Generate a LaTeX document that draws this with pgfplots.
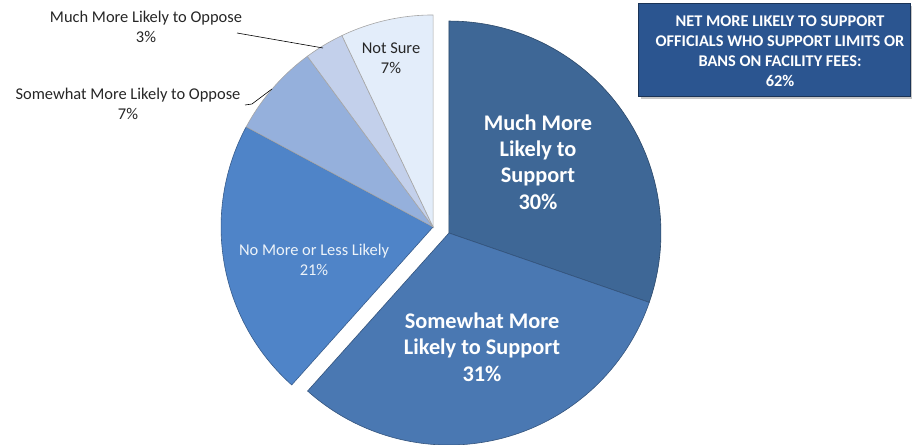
\documentclass[border=0pt]{standalone}
\usepackage{pgfplots}
\pgfplotsset{compat=1.18}
\usepackage{fontspec}
\setmainfont{Carlito}
\definecolor{sA}{HTML}{3E6796}
\definecolor{sB}{HTML}{4A78B2}
\definecolor{sC}{HTML}{4F84C8}
\definecolor{sD}{HTML}{95B0DC}
\definecolor{sE}{HTML}{C3D0EB}
\definecolor{sF}{HTML}{E3EDFA}
\definecolor{boxblue}{HTML}{2B5590}
\definecolor{txt}{HTML}{262626}
% survey shares (percent)
\def\vA{30}\def\vB{31}\def\vC{21}\def\vD{7}\def\vE{3}\def\vF{7}
\pgfmathsetmacro{\tot}{\vA+\vB+\vC+\vD+\vE+\vF}
\pgfmathsetmacro{\k}{360/\tot}
\pgfmathsetmacro{\aO}{90}
\pgfmathsetmacro{\aA}{\aO-\vA*\k}
\pgfmathsetmacro{\aB}{\aA-\vB*\k}
\pgfmathsetmacro{\aC}{\aB-\vC*\k}
\pgfmathsetmacro{\aD}{\aC-\vD*\k}
\pgfmathsetmacro{\aE}{\aD-\vE*\k}
\pgfmathsetmacro{\aF}{\aE-\vF*\k}
\def\R{212}
\def\cx{441}\def\cy{215}\def\off{8.5}
\pgfmathsetmacro{\bisA}{(\aO+\aB)/2}
\pgfmathsetmacro{\bisB}{(\aB+\aF)/2}
\pgfmathsetmacro{\xA}{\cx+\off*cos(\bisA)}
\pgfmathsetmacro{\yA}{\cy+\off*sin(\bisA)}
\pgfmathsetmacro{\xB}{\cx+\off*cos(\bisB)}
\pgfmathsetmacro{\yB}{\cy+\off*sin(\bisB)}
\begin{document}
\begin{tikzpicture}
\begin{axis}[hide axis, scale only axis, width=914bp, height=445bp,
  xmin=0, xmax=914, ymin=0, ymax=445, clip=false]
% group A (support)
\addplot[fill=sA, draw=sA!70!black, line width=0.6pt, domain=\aA:\aO, samples=90, variable=\t]
  ({\xA+\R*cos(\t)},{\yA+\R*sin(\t)}) -- (axis cs:\xA,\yA) -- cycle;
\addplot[fill=sB, draw=sB!70!black, line width=0.6pt, domain=\aB:\aA, samples=90, variable=\t]
  ({\xA+\R*cos(\t)},{\yA+\R*sin(\t)}) -- (axis cs:\xA,\yA) -- cycle;
% group B
\addplot[fill=sC, draw=sC!70!black, line width=0.6pt, domain=\aC:\aB, samples=70, variable=\t]
  ({\xB+\R*cos(\t)},{\yB+\R*sin(\t)}) -- (axis cs:\xB,\yB) -- cycle;
\addplot[fill=sD, draw=gray!70, line width=0.6pt, domain=\aD:\aC, samples=30, variable=\t]
  ({\xB+\R*cos(\t)},{\yB+\R*sin(\t)}) -- (axis cs:\xB,\yB) -- cycle;
\addplot[fill=sE, draw=gray!70, line width=0.6pt, domain=\aE:\aD, samples=20, variable=\t]
  ({\xB+\R*cos(\t)},{\yB+\R*sin(\t)}) -- (axis cs:\xB,\yB) -- cycle;
\addplot[fill=sF, draw=gray!70, line width=0.6pt, domain=\aF:\aE, samples=30, variable=\t]
  ({\xB+\R*cos(\t)},{\yB+\R*sin(\t)}) -- (axis cs:\xB,\yB) -- cycle;
% labels
\node[align=center, text=white, font=\fontsize{22.4}{26.5}\selectfont\bfseries] at (axis cs:538,283)
  {Much More\\Likely to\\Support\\30\%};
\node[align=center, text=white, font=\fontsize{22.4}{26.5}\selectfont\bfseries] at (axis cs:482,98)
  {Somewhat More\\Likely to Support\\31\%};
\node[align=center, text=white!90!sC, font=\fontsize{16.5}{20.5}\selectfont] at (axis cs:314,185)
  {No More or Less Likely\\21\%};
\node[align=center, text=txt, font=\fontsize{16.5}{20.5}\selectfont] at (axis cs:391,387)
  {Not Sure\\7\%};
\node[align=center, text=txt, font=\fontsize{16.5}{20.5}\selectfont] at (axis cs:146,418)
  {Much More Likely to Oppose\\3\%};
\node[align=center, text=txt, font=\fontsize{16.5}{20.5}\selectfont] at (axis cs:128,341)
  {Somewhat More Likely to Oppose\\7\%};
\draw[black, line width=0.6pt] (axis cs:237,412) -- (axis cs:323,397);
\draw[black, line width=0.6pt] (axis cs:245,340) -- (axis cs:252,341) -- (axis cs:272,356);
% callout box
\fill[gray!45] (axis cs:641,439) rectangle (axis cs:912,346);
\draw[fill=boxblue, draw=boxblue!60!black, line width=0.6pt] (axis cs:638,442) rectangle (axis cs:910,349);
\node[align=center, text=white, font=\fontsize{16.4}{20}\selectfont\bfseries] at (axis cs:780,394)
  {NET MORE LIKELY TO SUPPORT\\OFFICIALS WHO SUPPORT LIMITS OR\\BANS ON FACILITY FEES:\\62\%};
\end{axis}
\pgfresetboundingbox
\useasboundingbox (current axis.south west) rectangle (current axis.north east);
\end{tikzpicture}
\end{document}
